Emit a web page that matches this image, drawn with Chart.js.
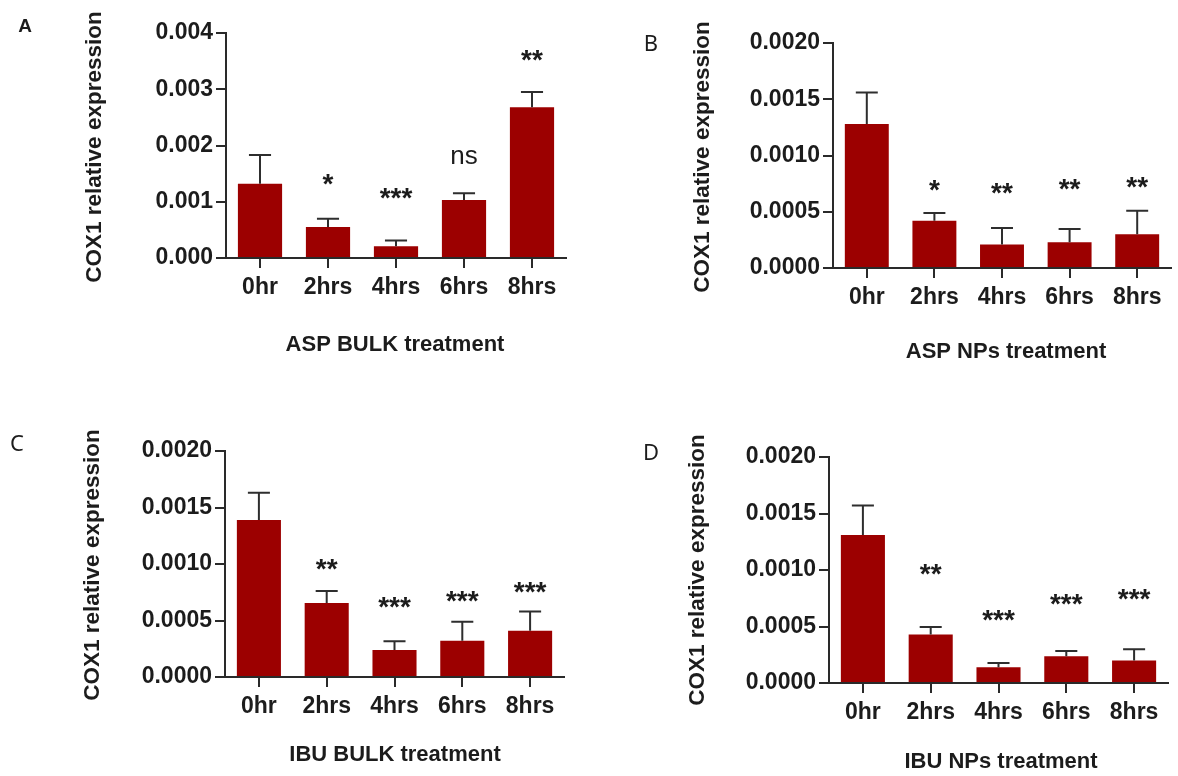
<!DOCTYPE html>
<html>
<head>
<meta charset="utf-8">
<script src="https://cdn.jsdelivr.net/npm/chart.js@4"></script>
<style>
  body { margin: 0; background: #fff; }
  #wrap { position: relative; width: 1178px; height: 776px; }
  canvas { position: absolute; }
</style>
</head>
<body>
<div id="wrap">
  <canvas id="panelA" width="589" height="388" style="left:0;top:0"></canvas>
  <canvas id="panelB" width="589" height="388" style="left:589px;top:0"></canvas>
  <canvas id="panelC" width="589" height="388" style="left:0;top:388px"></canvas>
  <canvas id="panelD" width="589" height="388" style="left:589px;top:388px"></canvas>
</div>
<script>
// Data
const categories = ['0hr', '2hrs', '4hrs', '6hrs', '8hrs'];

const meanA = [0.00132, 0.00055, 0.00021, 0.00103, 0.00268];
const semA = [0.00051, 0.00015, 0.00010, 0.00012, 0.00027];
const sigA = ['', '*', '***', 'ns', '**'];
const sigPosA = [null, 0.00142, 0.00118, 0.0018, 0.00362];

const meanB = [0.00128, 0.00042, 0.00021, 0.00023, 0.00030];
const semB = [0.00028, 0.00007, 0.000145, 0.000116, 0.00021];
const sigB = ['', '*', '**', '**', '**'];
const sigPosB = [null, 0.000747, 0.000723, 0.000754, 0.000777];

const meanC = [0.00139, 0.000655, 0.00024, 0.00032, 0.00041];
const semC = [0.00024, 0.000105, 0.000076, 0.00017, 0.00017];
const sigC = ['', '**', '***', '***', '***'];
const sigPosC = [null, 0.00101, 0.00067, 0.00073, 0.000805];

const meanD = [0.00131, 0.00043, 0.00014, 0.000236, 0.00020];
const semD = [0.00026, 0.000066, 0.000037, 0.000047, 0.000098];
const sigD = ['', '**', '***', '***', '***'];
const sigPosD = [null, 0.00102, 0.000614, 0.000756, 0.0008];

const yTicksA = ['0.000', '0.001', '0.002', '0.003', '0.004'];
const yTicksBCD = ['0.0000', '0.0005', '0.0010', '0.0015', '0.0020'];

const yTitle = 'COX1 relative expression';

const FONT = "'Liberation Sans', Arial, sans-serif";
const INK = '#1c1c1c';
const BAR = '#9c0000';

// error bars, significance marks and titles
const decorPlugin = {
    id: 'decor',
    afterDatasetsDraw(chart) {
        const o = chart.options.plugins.decor;
        const ctx = chart.ctx;
        const yScale = chart.scales.y;
        const meta = chart.getDatasetMeta(0);
        ctx.save();
        ctx.strokeStyle = '#2e2e2e';
        ctx.lineWidth = 2;
        meta.data.forEach((bar, i) => {
            const top = yScale.getPixelForValue(o.mean[i] + o.sem[i]);
            const half = bar.width / 4;
            ctx.beginPath();
            ctx.moveTo(bar.x, bar.y);
            ctx.lineTo(bar.x, top);
            ctx.moveTo(bar.x - half, top);
            ctx.lineTo(bar.x + half, top);
            ctx.stroke();

            const label = o.sig[i];
            if (!label) return;
            const cy = yScale.getPixelForValue(o.sigPos[i]);
            ctx.fillStyle = INK;
            ctx.textAlign = 'center';
            ctx.textBaseline = 'alphabetic';
            if (label === 'ns') {
                ctx.font = '26px ' + FONT;
                ctx.fillText(label, bar.x, cy + 7);
            } else {
                ctx.font = 'bold 28px ' + FONT;
                ctx.fillText(label, bar.x, cy + 15);
            }
        });
        ctx.restore();
    },
    afterDraw(chart) {
        const o = chart.options.plugins.decor;
        const ctx = chart.ctx;
        ctx.save();
        ctx.fillStyle = INK;
        ctx.textAlign = 'center';
        ctx.textBaseline = 'middle';

        ctx.font = o.letterFont;
        ctx.fillText(o.letter, o.letterX, o.letterY);

        ctx.font = 'bold 22px ' + FONT;
        ctx.fillText(o.xTitle, o.xTitleX, o.xTitleY);

        ctx.translate(o.yTitleX, o.yTitleY);
        ctx.rotate(-Math.PI / 2);
        ctx.font = 'bold 22.5px ' + FONT;
        ctx.fillText(yTitle, 0, 0);
        ctx.restore();
    }
};

function makePanel(id, cfg) {
    const canvas = document.getElementById(id);
    const W = canvas.width, H = canvas.height;
    const step = cfg.max / 4;
    return new Chart(canvas, {
        type: 'bar',
        data: {
            labels: categories,
            datasets: [{
                data: cfg.mean,
                backgroundColor: BAR,
                borderWidth: 0,
                barPercentage: 0.65,
                categoryPercentage: 1.0
            }]
        },
        options: {
            responsive: false,
            devicePixelRatio: 1,
            animation: false,
            layout: { padding: { left: 0, top: cfg.area.top, right: W - cfg.area.right, bottom: 0 } },
            scales: {
                x: {
                    offset: true,
                    afterFit: s => { s.height = H - cfg.area.bottom; },
                    grid: { offset: false, drawOnChartArea: false, tickLength: 10, color: '#2a2a2a', lineWidth: 2 },
                    border: { color: '#2a2a2a', width: 2 },
                    ticks: { color: INK, padding: 6, font: { family: FONT, size: 23, weight: 'bold' } }
                },
                y: {
                    min: 0,
                    max: cfg.max,
                    afterFit: s => { s.width = cfg.area.left; },
                    grid: { drawOnChartArea: false, tickLength: 10, color: '#2a2a2a', lineWidth: 2 },
                    border: { color: '#2a2a2a', width: 2 },
                    ticks: {
                        stepSize: step,
                        color: INK,
                        padding: 3,
                        font: { family: FONT, size: 23, weight: 'bold' },
                        callback: v => cfg.yTicks[Math.round(v / step)]
                    }
                }
            },
            plugins: {
                legend: { display: false },
                tooltip: { enabled: false },
                decor: {
                    mean: cfg.mean, sem: cfg.sem, sig: cfg.sig, sigPos: cfg.sigPos,
                    letter: cfg.letter, letterFont: cfg.letterFont, letterX: cfg.letterX, letterY: cfg.letterY,
                    xTitle: cfg.xTitle, xTitleX: cfg.xTitleX, xTitleY: cfg.xTitleY,
                    yTitleX: cfg.yTitleX, yTitleY: cfg.yTitleY
                }
            }
        },
        plugins: [decorPlugin]
    });
}

makePanel('panelA', {
    mean: meanA, sem: semA, sig: sigA, sigPos: sigPosA, max: 0.004, yTicks: yTicksA,
    area: { left: 226, top: 33, right: 566, bottom: 258 },
    letter: 'A', letterFont: 'bold 19px ' + FONT, letterX: 25, letterY: 27,
    xTitle: 'ASP BULK treatment', xTitleX: 395, xTitleY: 345,
    yTitleX: 95, yTitleY: 147
});

makePanel('panelB', {
    mean: meanB, sem: semB, sig: sigB, sigPos: sigPosB, max: 0.002, yTicks: yTicksBCD,
    area: { left: 244, top: 43, right: 582, bottom: 268 },
    letter: 'B', letterFont: "22px 'Noto Sans', sans-serif", letterX: 62, letterY: 45,
    xTitle: 'ASP NPs treatment', xTitleX: 417, xTitleY: 352,
    yTitleX: 114, yTitleY: 157
});

makePanel('panelC', {
    mean: meanC, sem: semC, sig: sigC, sigPos: sigPosC, max: 0.002, yTicks: yTicksBCD,
    area: { left: 225, top: 63, right: 564, bottom: 289 },
    letter: 'C', letterFont: "22px 'Noto Sans', sans-serif", letterX: 17, letterY: 57,
    xTitle: 'IBU BULK treatment', xTitleX: 395, xTitleY: 367,
    yTitleX: 93, yTitleY: 177
});

makePanel('panelD', {
    mean: meanD, sem: semD, sig: sigD, sigPos: sigPosD, max: 0.002, yTicks: yTicksBCD,
    area: { left: 240, top: 69, right: 579, bottom: 295 },
    letter: 'D', letterFont: "22px 'Noto Sans', sans-serif", letterX: 62, letterY: 66,
    xTitle: 'IBU NPs treatment', xTitleX: 412, xTitleY: 374,
    yTitleX: 109, yTitleY: 182
});
</script>
</body>
</html>
